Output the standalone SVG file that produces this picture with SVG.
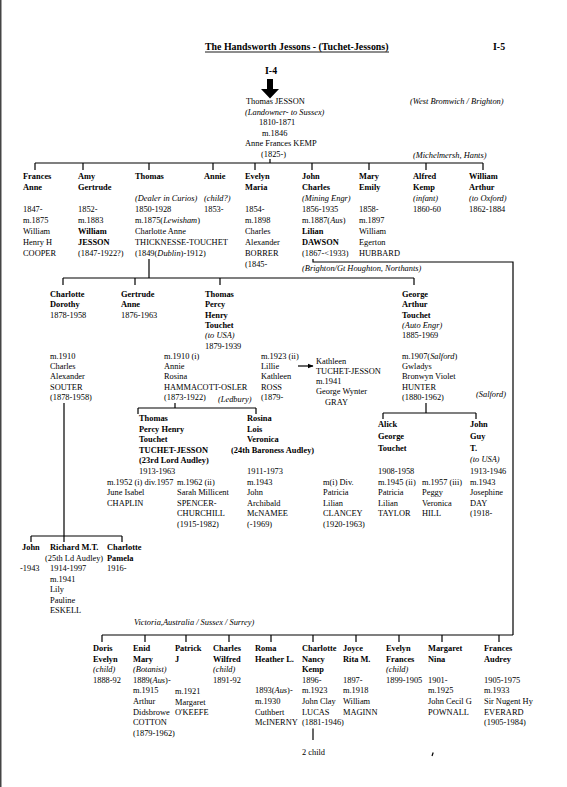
<svg xmlns="http://www.w3.org/2000/svg" width="567" height="787" viewBox="0 0 567 787">
<style>
text{font-family:"Liberation Serif","Times New Roman",serif;font-size:8.4px;fill:#000}
.b{font-weight:bold}
.i{font-style:italic}
.h{font-size:9.9px;font-weight:bold}
.c path,.c line{stroke:#000;stroke-width:1.2;fill:none}
</style>
<defs>
<marker id="ah" viewBox="0 0 10 10" refX="9" refY="5" markerWidth="6" markerHeight="6" orient="auto" markerUnits="userSpaceOnUse"><path d="M0,1 L10,5 L0,9 z" fill="#000"/></marker>
</defs>
<rect width="567" height="787" fill="#fff"/>
<rect x="0" y="0" width="1.5" height="787" fill="#444"/>
<g id="header">
<text class="h" x="205" y="50">The Handsworth Jessons - (Tuchet-Jessons)</text>
<line x1="205" y1="52" x2="389" y2="52" stroke="#000" stroke-width="0.9"/>
<text class="h" x="493" y="50">I-5</text>
<text class="h" x="265" y="74">I-4</text>
<path d="M267,79 H273 V89 H279 L270,98.5 L261,89 H267 Z" fill="#000"/>
<text class="i" x="410" y="104">(West Bromwich / Brighton)</text>
<text class="i" x="413" y="158">(Michelmersh, Hants)</text>
<text class="i" x="302" y="271">(Brighton/Gt Houghton, Northants)</text>
<text class="i" x="218" y="402">(Ledbury)</text>
<text class="i" x="476" y="397">(Salford)</text>
<text class="i" x="134" y="625">Victoria,Australia / Sussex / Surrey)</text>
</g>
<g class="c" id="connectors">
<path d="M270,159 V163 M35,163 H483 M35,163 V170 M83,163 V170 M149,163 V170 M213,163 V170 M255,163 V170 M312,163 V170 M369,163 V170 M426,163 V170 M483,163 V170"/>
<path d="M149,259 V278 M63,278 H414 M63,278 V285 M135,278 V285 M220,278 V285 M414,278 V285"/>
<path d="M313,259 V262 H513 V635"/>
<path d="M175,403 V408 M138,408 H256 M138,408 V414 M256,408 V414"/>
<path d="M426,403 V413 M383,413 H476 M383,413 V419 M476,413 V419"/>
<path d="M64,403 V542 M31,536 H122 M31,536 V542 M122,536 V542"/>
<path d="M102,635 H513 M102,635 V642 M145,635 V642 M186,635 V642 M229,635 V642 M271,635 V642 M313,635 V642 M356,635 V642 M399,635 V642 M442,635 V642 M499,635 V642"/>
<path d="M313,728.5 V740"/>
<line x1="298" y1="366" x2="313" y2="366" marker-end="url(#ah)"/>
<path d="M432,756 L433.2,752.5" stroke-width="0.8"/>
</g>
<g id="thomas-jesson"><text><tspan x="246" y="104">Thomas JESSON</tspan><tspan class="i" x="245" y="114.5">(Landowner- to Sussex)</tspan><tspan x="259" y="125">1810-1871</tspan><tspan x="262" y="135.5">m.1846</tspan><tspan x="245" y="146">Anne Frances KEMP</tspan><tspan x="261" y="156.5">(1825-)</tspan></text></g>
<g id="frances-anne"><text><tspan class="b" x="23" y="179">Frances</tspan><tspan class="b" x="23" y="190">Anne</tspan><tspan x="23" y="212">1847-</tspan><tspan x="23" y="223">m.1875</tspan><tspan x="23" y="234">William</tspan><tspan x="23" y="245">Henry H</tspan><tspan x="23" y="256">COOPER</tspan></text></g>
<g id="amy-gertrude"><text><tspan class="b" x="78" y="179">Amy</tspan><tspan class="b" x="78" y="190">Gertrude</tspan><tspan x="78" y="212">1852-</tspan><tspan x="78" y="223">m.1883</tspan><tspan class="b" x="78" y="234">William</tspan><tspan class="b" x="78" y="245">JESSON</tspan><tspan x="78" y="256">(1847-1922?)</tspan></text></g>
<g id="thomas"><text><tspan class="b" x="135" y="179">Thomas</tspan><tspan class="i" x="135" y="201">(Dealer in Curios)</tspan><tspan x="135" y="212">1850-1928</tspan><tspan x="135" y="223">m.1875(<tspan class="i">Lewisham</tspan>)</tspan><tspan x="135" y="234">Charlotte Anne</tspan><tspan x="135" y="245">THICKNESSE-TOUCHET</tspan><tspan x="135" y="256">(1849(<tspan class="i">Dublin</tspan>)-1912)</tspan></text></g>
<g id="annie"><text><tspan class="b" x="204" y="179">Annie</tspan><tspan class="i" x="204" y="201">(child?)</tspan><tspan x="204" y="212">1853-</tspan></text></g>
<g id="evelyn-maria"><text><tspan class="b" x="245" y="179">Evelyn</tspan><tspan class="b" x="245" y="190">Maria</tspan><tspan x="245" y="212">1854-</tspan><tspan x="245" y="223">m.1898</tspan><tspan x="245" y="234">Charles</tspan><tspan x="245" y="245">Alexander</tspan><tspan x="245" y="256">BORRER</tspan><tspan x="245" y="267">(1845-</tspan></text></g>
<g id="john-charles"><text><tspan class="b" x="302" y="179">John</tspan><tspan class="b" x="302" y="190">Charles</tspan><tspan class="i" x="302" y="201">(Mining Engr)</tspan><tspan x="302" y="212">1856-1935</tspan><tspan x="302" y="223">m.1887(<tspan class="i">Aus</tspan>)</tspan><tspan class="b" x="302" y="234">Lilian</tspan><tspan class="b" x="302" y="245">DAWSON</tspan><tspan x="302" y="256">(1867-&lt;1933)</tspan></text></g>
<g id="mary-emily"><text><tspan class="b" x="359" y="179">Mary</tspan><tspan class="b" x="359" y="190">Emily</tspan><tspan x="359" y="212">1858-</tspan><tspan x="359" y="223">m.1897</tspan><tspan x="359" y="234">William</tspan><tspan x="359" y="245">Egerton</tspan><tspan x="359" y="256">HUBBARD</tspan></text></g>
<g id="alfred-kemp"><text><tspan class="b" x="413" y="179">Alfred</tspan><tspan class="b" x="413" y="190">Kemp</tspan><tspan class="i" x="413" y="201">(infant)</tspan><tspan x="413" y="212">1860-60</tspan></text></g>
<g id="william-arthur"><text><tspan class="b" x="469" y="179">William</tspan><tspan class="b" x="469" y="190">Arthur</tspan><tspan class="i" x="469" y="201">(to Oxford)</tspan><tspan x="469" y="212">1862-1884</tspan></text></g>
<g id="charlotte-dorothy"><text><tspan class="b" x="50" y="297">Charlotte</tspan><tspan class="b" x="50" y="307.3">Dorothy</tspan><tspan x="50" y="317.6">1878-1958</tspan><tspan x="50" y="358.8">m.1910</tspan><tspan x="50" y="369.1">Charles</tspan><tspan x="50" y="379.4">Alexander</tspan><tspan x="50" y="389.7">SOUTER</tspan><tspan x="50" y="400">(1878-1958)</tspan></text></g>
<g id="gertrude-anne"><text><tspan class="b" x="121" y="297">Gertrude</tspan><tspan class="b" x="121" y="307.3">Anne</tspan><tspan x="121" y="317.6">1876-1963</tspan></text></g>
<g id="thomas-percy"><text><tspan class="b" x="205" y="297">Thomas</tspan><tspan class="b" x="205" y="307.3">Percy</tspan><tspan class="b" x="205" y="317.6">Henry</tspan><tspan class="b" x="205" y="327.9">Touchet</tspan><tspan class="i" x="205" y="338.2">(to USA)</tspan><tspan x="205" y="348.5">1879-1939</tspan><tspan x="164" y="358.8">m.1910 (i)</tspan><tspan x="164" y="369.1">Annie</tspan><tspan x="164" y="379.4">Rosina</tspan><tspan x="164" y="389.7">HAMMACOTT-OSLER</tspan><tspan x="164" y="400">(1873-1922)</tspan><tspan x="261" y="358.8">m.1923 (ii)</tspan><tspan x="261" y="369.1">Lillie</tspan><tspan x="261" y="379.4">Kathleen</tspan><tspan x="261" y="389.7">ROSS</tspan><tspan x="261" y="400">(1879-</tspan></text></g>
<g id="kathleen"><text><tspan x="316" y="363.5">Kathleen</tspan><tspan x="316" y="373.8">TUCHET-JESSON</tspan><tspan x="316" y="384.1">m.1941</tspan><tspan x="316" y="394.4">George Wynter</tspan><tspan x="325" y="404.7">GRAY</tspan></text></g>
<g id="george-arthur"><text><tspan class="b" x="402" y="297">George</tspan><tspan class="b" x="402" y="307.3">Arthur</tspan><tspan class="b" x="402" y="317.6">Touchet</tspan><tspan class="i" x="402" y="327.9">(Auto Engr)</tspan><tspan x="402" y="338.2">1885-1969</tspan><tspan x="402" y="358.8">m.1907(<tspan class="i">Salford</tspan>)</tspan><tspan x="402" y="369.1">Gwladys</tspan><tspan x="402" y="379.4">Bronwyn Violet</tspan><tspan x="402" y="389.7">HUNTER</tspan><tspan x="402" y="400">(1880-1962)</tspan></text></g>
<g id="thomas-percy-henry"><text><tspan class="b" x="139" y="421">Thomas</tspan><tspan class="b" x="139" y="431.6">Percy Henry</tspan><tspan class="b" x="139" y="442.2">Touchet</tspan><tspan class="b" x="139" y="452.8">TUCHET-JESSON</tspan><tspan class="b" x="139" y="463.4">(23rd Lord Audley)</tspan><tspan x="139" y="474">1913-1963</tspan><tspan x="107" y="484.6">m.1952 (i) div.1957</tspan><tspan x="107" y="495.2">June Isabel</tspan><tspan x="107" y="505.8">CHAPLIN</tspan><tspan x="177" y="484.6">m.1962 (ii)</tspan><tspan x="177" y="495.2">Sarah Millicent</tspan><tspan x="177" y="505.8">SPENCER-</tspan><tspan x="177" y="516.4">CHURCHILL</tspan><tspan x="177" y="527">(1915-1982)</tspan></text></g>
<g id="rosina-lois"><text><tspan class="b" x="247" y="421">Rosina</tspan><tspan class="b" x="247" y="431.6">Lois</tspan><tspan class="b" x="247" y="442.2">Veronica</tspan><tspan class="b" x="231" y="452.8">(24th Baroness Audley)</tspan><tspan x="247" y="474">1911-1973</tspan><tspan x="247" y="484.6">m.1943</tspan><tspan x="247" y="495.2">John</tspan><tspan x="247" y="505.8">Archibald</tspan><tspan x="247" y="516.4">McNAMEE</tspan><tspan x="247" y="527">(-1969)</tspan></text></g>
<g id="alick-george"><text><tspan class="b" x="378" y="427">Alick</tspan><tspan class="b" x="378" y="438.7">George</tspan><tspan class="b" x="378" y="450.5">Touchet</tspan><tspan x="378" y="474">1908-1958</tspan><tspan x="378" y="484.6">m.1945 (ii)</tspan><tspan x="378" y="495.2">Patricia</tspan><tspan x="378" y="505.8">Lilian</tspan><tspan x="378" y="516.4">TAYLOR</tspan><tspan x="323" y="484.6">m(i) Div.</tspan><tspan x="323" y="495.2">Patricia</tspan><tspan x="323" y="505.8">Lilian</tspan><tspan x="323" y="516.4">CLANCEY</tspan><tspan x="323" y="527">(1920-1963)</tspan><tspan x="422" y="484.6">m.1957 (iii)</tspan><tspan x="422" y="495.2">Peggy</tspan><tspan x="422" y="505.8">Veronica</tspan><tspan x="422" y="516.4">HILL</tspan></text></g>
<g id="john-guy"><text><tspan class="b" x="470" y="427">John</tspan><tspan class="b" x="470" y="438.7">Guy</tspan><tspan class="b" x="470" y="450.5">T.</tspan><tspan class="i" x="470" y="462.2">(to USA)</tspan><tspan x="470" y="474">1913-1946</tspan><tspan x="470" y="484.6">m.1943</tspan><tspan x="470" y="495.2">Josephine</tspan><tspan x="470" y="505.8">DAY</tspan><tspan x="470" y="516.4">(1918-</tspan></text></g>
<g id="john"><text><tspan class="b" x="22" y="550">John</tspan><tspan x="20" y="571">-1943</tspan></text></g>
<g id="richard"><text><tspan class="b" x="50" y="550">Richard M.T.</tspan><tspan x="45" y="560.5">(25th Ld Audley)</tspan><tspan x="50" y="571">1914-1997</tspan><tspan x="50" y="581.5">m.1941</tspan><tspan x="50" y="592">Lily</tspan><tspan x="50" y="602.5">Pauline</tspan><tspan x="50" y="613">ESKELL</tspan></text></g>
<g id="charlotte-pamela"><text><tspan class="b" x="107" y="550">Charlotte</tspan><tspan class="b" x="107" y="560.5">Pamela</tspan><tspan x="107" y="571">1916-</tspan></text></g>
<g id="doris"><text><tspan class="b" x="93" y="651">Doris</tspan><tspan class="b" x="93" y="661.6">Evelyn</tspan><tspan class="i" x="93" y="672.2">(child)</tspan><tspan x="93" y="682.8">1888-92</tspan></text></g>
<g id="enid"><text><tspan class="b" x="133" y="651">Enid</tspan><tspan class="b" x="133" y="661.6">Mary</tspan><tspan class="i" x="133" y="672.2">(Botanist)</tspan><tspan x="133" y="682.8">1889(<tspan class="i">Aus</tspan>)-</tspan><tspan x="133" y="693.4">m.1915</tspan><tspan x="133" y="704">Arthur</tspan><tspan x="133" y="714.6">Didsbrowe</tspan><tspan x="133" y="725.2">COTTON</tspan><tspan x="133" y="735.8">(1879-1962)</tspan></text></g>
<g id="patrick"><text><tspan class="b" x="175" y="651">Patrick</tspan><tspan class="b" x="175" y="661.6">J</tspan><tspan x="175" y="694.4">m.1921</tspan><tspan x="175" y="704.5">Margaret</tspan><tspan x="175" y="715">O'KEEFE</tspan></text></g>
<g id="charles-wilfred"><text><tspan class="b" x="213" y="651">Charles</tspan><tspan class="b" x="213" y="661.6">Wilfred</tspan><tspan class="i" x="213" y="672.2">(child)</tspan><tspan x="213" y="682.8">1891-92</tspan></text></g>
<g id="roma"><text><tspan class="b" x="255" y="651">Roma</tspan><tspan class="b" x="255" y="661.6">Heather L.</tspan><tspan x="255" y="693.4">1893(<tspan class="i">Aus</tspan>)-</tspan><tspan x="255" y="704">m.1930</tspan><tspan x="255" y="714.6">Cuthbert</tspan><tspan x="255" y="725.2">McINERNY</tspan></text></g>
<g id="charlotte-nancy"><text><tspan class="b" x="302" y="651">Charlotte</tspan><tspan class="b" x="302" y="661.6">Nancy</tspan><tspan class="b" x="302" y="672.2">Kemp</tspan><tspan x="302" y="682.8">1896-</tspan><tspan x="302" y="693.4">m.1923</tspan><tspan x="302" y="704">John Clay</tspan><tspan x="302" y="714.6">LUCAS</tspan><tspan x="302" y="725.2">(1881-1946)</tspan><tspan x="302" y="755">2 child</tspan></text></g>
<g id="joyce"><text><tspan class="b" x="343" y="651">Joyce</tspan><tspan class="b" x="343" y="661.6">Rita M.</tspan><tspan x="343" y="682.8">1897-</tspan><tspan x="343" y="693.4">m.1918</tspan><tspan x="343" y="704">William</tspan><tspan x="343" y="714.6">MAGINN</tspan></text></g>
<g id="evelyn-frances"><text><tspan class="b" x="386" y="651">Evelyn</tspan><tspan class="b" x="386" y="661.6">Frances</tspan><tspan class="i" x="386" y="672.2">(child)</tspan><tspan x="386" y="682.8">1899-1905</tspan></text></g>
<g id="margaret-nina"><text><tspan class="b" x="428" y="651">Margaret</tspan><tspan class="b" x="428" y="661.6">Nina</tspan><tspan x="428" y="682.8">1901-</tspan><tspan x="428" y="693.4">m.1925</tspan><tspan x="428" y="704">John Cecil G</tspan><tspan x="428" y="714.6">POWNALL</tspan></text></g>
<g id="frances-audrey"><text><tspan class="b" x="484" y="651">Frances</tspan><tspan class="b" x="484" y="661.6">Audrey</tspan><tspan x="484" y="682.8">1905-1975</tspan><tspan x="484" y="693.4">m.1933</tspan><tspan x="484" y="704">Sir Nugent Hy</tspan><tspan x="484" y="714.6">EVERARD</tspan><tspan x="484" y="725.2">(1905-1984)</tspan></text></g>
</svg>
